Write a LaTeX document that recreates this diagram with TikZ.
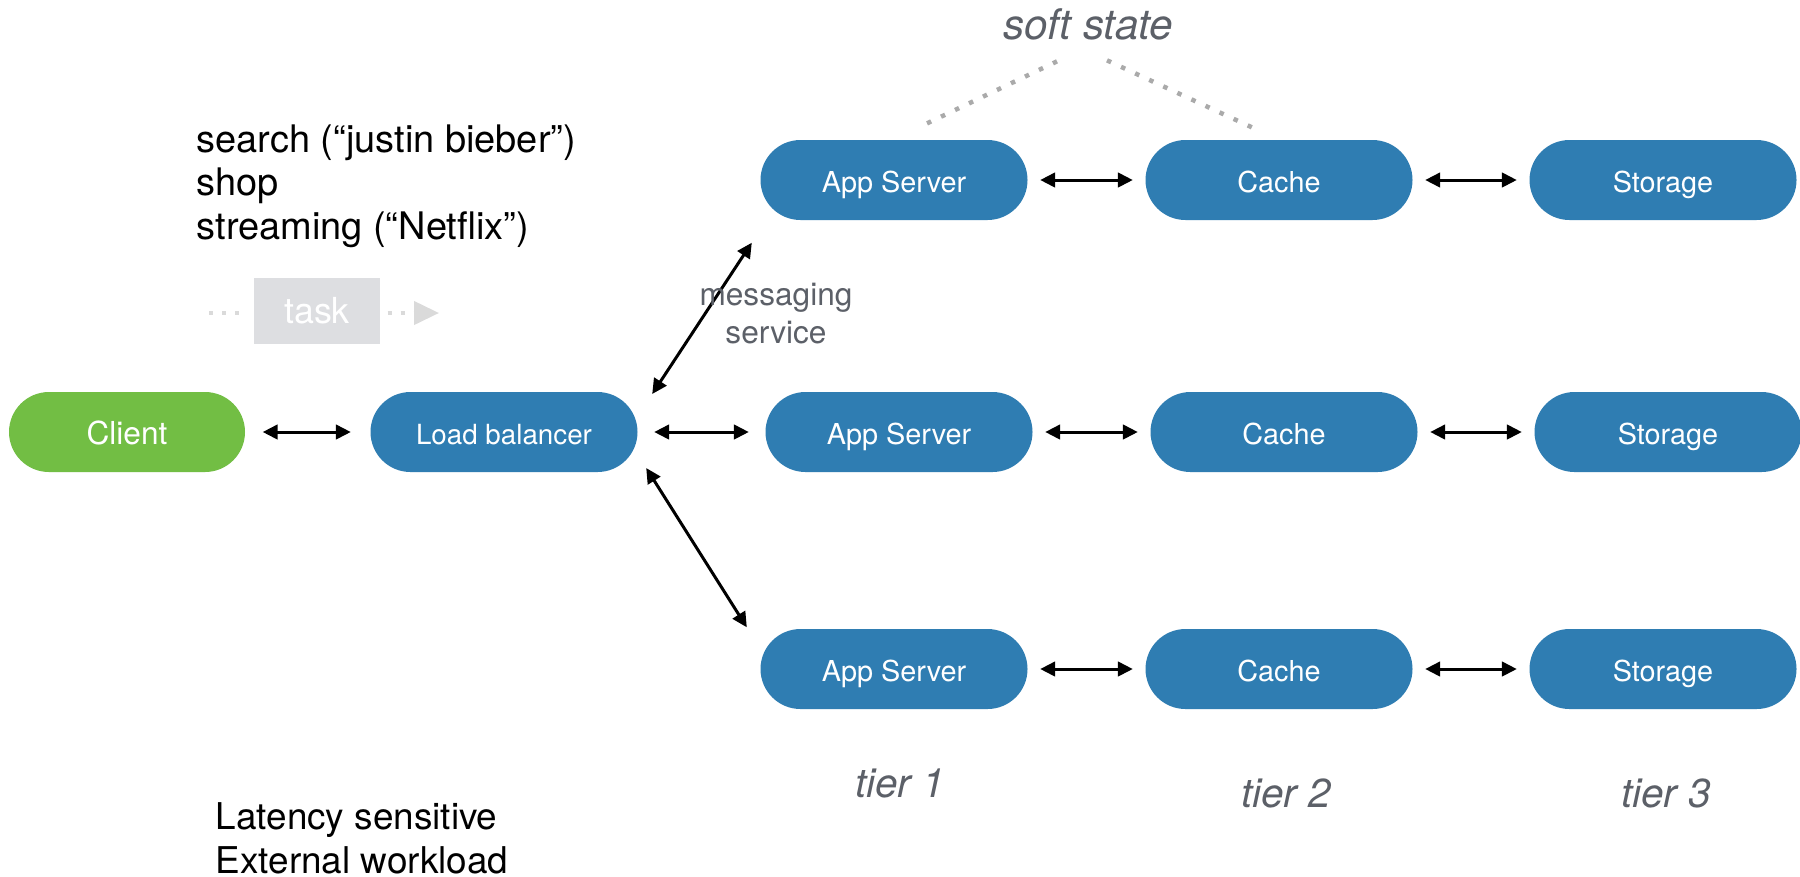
\documentclass[tikz,border=0pt]{standalone}
\usepackage{fontspec}
\setmainfont{TeX Gyre Heros}
\usetikzlibrary{arrows.meta,positioning}
\definecolor{tierblue}{RGB}{47,125,178}
\definecolor{clientgreen}{RGB}{114,190,68}
\definecolor{labelgray}{RGB}{92,96,104}
\definecolor{taskgray}{RGB}{221,222,225}
\definecolor{taskline}{RGB}{218,218,218}
\definecolor{dotgray}{RGB}{170,170,170}

\begin{document}
\begin{tikzpicture}[x=0.1mm,y=-0.1mm,
        pill/.style={rectangle,rounded corners=4mm,minimum width=26.7mm,minimum height=8mm,
            inner sep=0pt,text height=0.72em,text depth=0pt,
            fill=tierblue,text=white,font=\fontsize{8.2}{10}\selectfont},
        clientpill/.style={pill,fill=clientgreen,minimum width=23.6mm,font=\fontsize{9}{11}\selectfont},
        link/.style={{Triangle[length=1.5mm,width=1.45mm]}-{Triangle[length=1.5mm,width=1.45mm]},
            line width=0.3mm,shorten <=1.2mm,shorten >=1.2mm},
        tierlabel/.style={anchor=base,inner sep=0pt,text=labelgray,font=\fontsize{11.5}{13}\selectfont\itshape},
        softdots/.style={dotgray,line width=0.45mm,dash pattern=on 0.45mm off 1.1mm},
        taskdots/.style={taskline,line width=0.4mm,dash pattern=on 0.4mm off 0.9mm}]
    \useasboundingbox (0,0) rectangle (1800,876);
    \fill[white] (0,0) rectangle (1800,876);

    % front end
    \node[clientpill] (client) at (127,432) {Client};
    \node[pill,font=\fontsize{7.9}{10}\selectfont] (lb) at (504,432) {Load balancer};

    % three rows of tiers
    \node[pill] (app1) at (894,180) {App Server};
    \node[pill] (cache1) at (1279,180) {Cache};
    \node[pill] (store1) at (1663,180) {Storage};

    \node[pill] (app2) at (899,432) {App Server};
    \node[pill] (cache2) at (1284,432) {Cache};
    \node[pill] (store2) at (1668,432) {Storage};

    \node[pill] (app3) at (894,669) {App Server};
    \node[pill] (cache3) at (1279,669) {Cache};
    \node[pill] (store3) at (1663,669) {Storage};

    \draw[link,shorten <=1.7mm,shorten >=1.9mm] (client) -- (lb);
    \draw[link,shorten <=1.6mm,shorten >=1.6mm] (lb) -- (app2);
    \draw[link,shorten <=0mm,shorten >=0mm] ([xshift=1.4mm,yshift=3.8mm]lb.east) -- ([xshift=-0.8mm,yshift=-2.2mm]app1.south west);
    \draw[link,shorten <=0mm,shorten >=0mm] ([xshift=0.8mm,yshift=-3.6mm]lb.east) -- ([xshift=-1.3mm,yshift=0.1mm]app3.north west);
    \foreach \r in {1,2,3} {
        \draw[link] (app\r) -- (cache\r);
        \draw[link] (cache\r) -- (store\r);
    }

    % labels
    \node[anchor=north west,align=left,inner sep=0pt,font=\fontsize{10.8}{12.4}\selectfont] (kinds) at (196,124)
        {search (“justin bieber”)\\shop\\streaming (“Netflix”)};
    \node[anchor=north west,align=left,inner sep=0pt,font=\fontsize{10.5}{12.4}\selectfont] (traits) at (215,802)
        {Latency sensitive\\External workload};
    \node[anchor=north,align=center,inner sep=0pt,text=labelgray,font=\fontsize{9}{10.8}\selectfont] (msg) at (776,282)
        {messaging\\service};

    \node[anchor=base,inner sep=0pt,text=labelgray,font=\fontsize{12}{14}\selectfont\itshape] (soft) at (1088,39) {soft state};
    \draw[softdots] ([xshift=-3.1mm,yshift=-2.1mm]soft.south) -- ([xshift=2.9mm,yshift=1.4mm]app1.north);
    \draw[softdots] ([xshift=1.9mm,yshift=-2.0mm]soft.south) -- ([xshift=-2.5mm,yshift=1.1mm]cache1.north);

    \node[tierlabel] (t1) at (900,797) {tier 1};
    \node[tierlabel] (t2) at (1286,807) {tier 2};
    \node[tierlabel] (t3) at (1666,807) {tier 3};

    % task token
    \node[rectangle,fill=taskgray,minimum width=12.6mm,minimum height=6.6mm,inner sep=0pt,
        text=white,font=\fontsize{10.2}{12}\selectfont] (task) at (317,311) {task};
    \coordinate (taskin) at (209,313);
    \coordinate (taskout) at (439,313);
    \draw[taskdots,shorten >=0.9mm] (taskin) -- (taskin -| task.west);
    \draw[taskdots,shorten <=0.7mm,-{Triangle[length=2.5mm,width=2.3mm]}] (taskout -| task.east) -- (taskout);
\end{tikzpicture}
\end{document}
